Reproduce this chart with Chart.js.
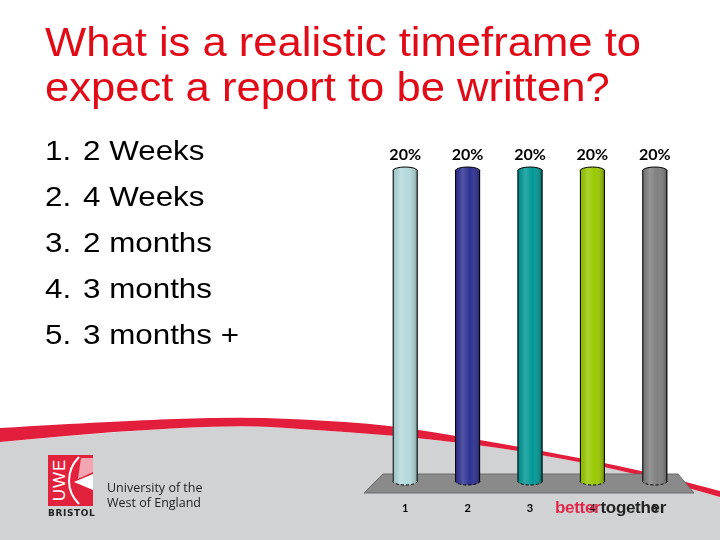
<!DOCTYPE html>
<html>
<head>
<meta charset="utf-8">
<script src="https://cdn.jsdelivr.net/npm/chart.js@4.4.0/dist/chart.umd.min.js"></script>
<style>
html, body { margin: 0; padding: 0; width: 720px; height: 540px; overflow: hidden; background: #fff; }
#wrap { position: relative; width: 720px; height: 540px; }
canvas { position: absolute; left: 0; top: 0; }
.t { position: absolute; white-space: nowrap; font-family: "Liberation Sans", Arial, sans-serif; }
#title { left: 45px; top: 20px; color: #e10a17; font-size: 40px; line-height: 45px; transform: scaleX(1.09); transform-origin: left top; }
.num, .ans { font-size: 28px; line-height: 46px; color: #000; transform: scaleX(1.12); transform-origin: left top; }
.num { left: 45px; }
.ans { left: 83px; }
#uwebox { position: absolute; left: 48px; top: 455px; width: 45px; height: 51px; background: #e2223c; }
#uwe { position: absolute; left: 51px; top: 504px; width: 48px; text-align: center; line-height: 17px; transform: rotate(-90deg); transform-origin: left top; color: #fff; font-size: 17px; font-family: "Liberation Sans", Arial, sans-serif; letter-spacing: 1px; }
#bristol { left: 48px; top: 508px; font: bold 9px "DejaVu Sans", sans-serif; letter-spacing: 0.6px; color: #222; }
#uni { left: 107px; top: 480px; font: 12.5px/15px "Open Sans", sans-serif; color: #222; }
#bt { left: 555px; top: 498px; font: bold 17px "Liberation Sans", Arial, sans-serif; letter-spacing: -0.3px; }
#bt .r { color: #e2284a; }
#bt .k { color: #222; }
</style>
</head>
<body>
<div id="wrap">
  <canvas id="chart" width="720" height="540"></canvas>
  <div id="title" class="t">What is a realistic timeframe to<br>expect a report to be written?</div>
  <div id="list"></div>
  <div id="uwebox">
    <svg width="45" height="51" style="position:absolute;left:0;top:0">
      <path d="M31 2 C24 9 21 18 21 26 C21 34 24 42 31 49" fill="none" stroke="#fff" stroke-width="2"/>
      <path d="M33 3 L45 3 L45 17 L30 24 Z" fill="#f4a6b0"/>
      <path d="M26 27 L45 19 L45 35 Z" fill="#fff"/>
    </svg>
  </div>
  <div id="uwe">UWE</div>
  <div id="bristol" class="t">BRISTOL</div>
  <div id="uni" class="t">University of the<br>West of England</div>
  <div id="bt" class="t"><span class="r">better</span><span class="k">together</span></div>
</div>
<script>
const categories = ['1', '2', '3', '4', '5'];
const answers = ['2 Weeks', '4 Weeks', '2 months', '3 months', '3 months +'];
const percentages = [20, 20, 20, 20, 20];
const barColors = ['#b3d9dc', '#2e3192', '#009896', '#99c900', '#7f7f7f'];

// answer list on the left
const list = document.getElementById('list');
answers.forEach((a, i) => {
    const top = 128 + i * 46;
    list.innerHTML += '<div class="t num" style="top:' + top + 'px">' + (i + 1) + '.</div>' +
        '<div class="t ans" style="top:' + top + 'px">' + a + '</div>';
});

function smoothPath(ctx, pts) {
    for (let i = 1; i < pts.length - 1; i++) {
        const mx = (pts[i][0] + pts[i + 1][0]) / 2;
        const my = (pts[i][1] + pts[i + 1][1]) / 2;
        ctx.quadraticCurveTo(pts[i][0], pts[i][1], mx, my);
    }
    ctx.lineTo(pts[pts.length - 1][0], pts[pts.length - 1][1]);
}

// white slide, red swoosh, grey footer
const slideBackground = {
    id: 'slideBackground',
    beforeDraw(chart) {
        const ctx = chart.ctx;
        const top = [[0, 428], [120, 421], [230, 417], [300, 419], [390, 425], [480, 440], [543, 451], [640, 470], [720, 491]];
        const bot = [[0, 442], [120, 431], [240, 425], [300, 429], [390, 435], [480, 445], [543, 455], [640, 474], [720, 497]];
        ctx.save();
        ctx.fillStyle = '#fff';
        ctx.fillRect(0, 0, chart.width, chart.height);
        ctx.fillStyle = '#d1d2d4';
        ctx.beginPath();
        ctx.moveTo(0, 540);
        ctx.lineTo(bot[0][0], bot[0][1]);
        smoothPath(ctx, bot);
        ctx.lineTo(720, 540);
        ctx.closePath();
        ctx.fill();
        ctx.fillStyle = '#e31e3d';
        ctx.beginPath();
        ctx.moveTo(top[0][0], top[0][1]);
        smoothPath(ctx, top);
        const rb = bot.slice().reverse();
        ctx.lineTo(rb[0][0], rb[0][1]);
        smoothPath(ctx, rb);
        ctx.closePath();
        ctx.fill();
        ctx.restore();
    },
    beforeDatasetsDraw(chart) {
        // floor under the cylinders
        const ctx = chart.ctx;
        const a = chart.chartArea;
        ctx.save();
        ctx.fillStyle = '#8a8a8a';
        ctx.strokeStyle = '#6a6a6a';
        ctx.lineWidth = 1;
        ctx.beginPath();
        ctx.moveTo(a.left + 9, a.bottom - 7);
        ctx.lineTo(a.right - 8, a.bottom - 7);
        ctx.lineTo(a.right + 8, a.bottom + 12);
        ctx.lineTo(a.left - 10, a.bottom + 12);
        ctx.closePath();
        ctx.fill();
        ctx.stroke();
        ctx.restore();
    }
};

// turn flat bars into cylinders and put the value on top
const cylinders = {
    id: 'cylinders',
    afterDatasetsDraw(chart) {
        const ctx = chart.ctx;
        const meta = chart.getDatasetMeta(0);
        meta.data.forEach((bar, i) => {
            const p = bar.getProps(['x', 'y', 'base', 'width'], true);
            const l = p.x - p.width / 2, r = p.x + p.width / 2, ry = 4;
            const g = ctx.createLinearGradient(l, 0, r, 0);
            g.addColorStop(0, 'rgba(0,0,0,0.08)');
            g.addColorStop(0.3, 'rgba(255,255,255,0.18)');
            g.addColorStop(0.6, 'rgba(255,255,255,0.0)');
            g.addColorStop(1, 'rgba(0,0,0,0.3)');
            ctx.save();
            // bottom cap
            ctx.beginPath();
            ctx.ellipse(p.x, p.base, p.width / 2, ry, 0, 0, Math.PI);
            ctx.fillStyle = barColors[i];
            ctx.fill();
            ctx.fillStyle = g;
            ctx.fill();
            ctx.setLineDash([3, 2]);
            ctx.strokeStyle = '#000';
            ctx.lineWidth = 1;
            ctx.stroke();
            ctx.setLineDash([]);
            // body shading
            ctx.fillStyle = g;
            ctx.fillRect(l, p.y, p.width, p.base - p.y);
            // top cap
            ctx.beginPath();
            ctx.ellipse(p.x, p.y, p.width / 2, ry, 0, Math.PI, 2 * Math.PI);
            ctx.fillStyle = barColors[i];
            ctx.fill();
            ctx.fillStyle = g;
            ctx.fill();
            ctx.stroke();
            // sides
            ctx.beginPath();
            ctx.moveTo(l + 0.5, p.y);
            ctx.lineTo(l + 0.5, p.base);
            ctx.moveTo(r - 0.5, p.y);
            ctx.lineTo(r - 0.5, p.base);
            ctx.stroke();
            // value label
            ctx.fillStyle = '#000';
            ctx.font = 'bold 16px Lato, sans-serif';
            ctx.textAlign = 'center';
            ctx.textBaseline = 'alphabetic';
            ctx.fillText(percentages[i] + '%', p.x, p.y - 11);
            ctx.restore();
        });
    }
};

new Chart(document.getElementById('chart'), {
    type: 'bar',
    data: {
        labels: categories,
        datasets: [{
            data: percentages,
            backgroundColor: barColors,
            borderWidth: 0,
            barPercentage: 0.4,
            categoryPercentage: 1
        }]
    },
    options: {
        responsive: false,
        animation: false,
        events: [],
        layout: { padding: { left: 374, right: 34, top: 171, bottom: 25 } },
        plugins: { legend: { display: false }, tooltip: { enabled: false } },
        scales: {
            x: {
                grid: { display: false, drawTicks: false },
                border: { display: false },
                ticks: { color: '#000', padding: 21, font: { family: 'Lato', weight: 'bold', size: 11 } },
                afterFit(scale) { scale.height = 34; }
            },
            y: { display: false, min: 0, max: 20 }
        }
    },
    plugins: [slideBackground, cylinders]
});
</script>
</body>
</html>
